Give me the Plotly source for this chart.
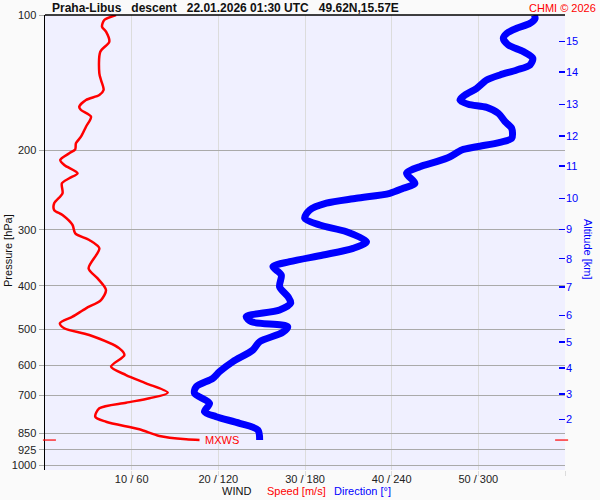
import math
import plotly.graph_objects as go

# ---------------- data ----------------
speed_pressure = [100.0, 102.6, 106.2, 108.9, 114.6, 120.7, 134.8, 139.5, 146.8, 150.6,
                  154.5, 159.9, 162.6, 168.3, 177.1, 186.4, 192.8, 198.8, 202.9, 210.0,
                  215.4, 224.8, 230.6, 236.6, 249.0, 262.0, 271.3, 278.3, 292.9, 305.6,
                  316.2, 330.0, 365.6, 384.8, 408.4, 429.9, 448.6, 468.1, 484.3, 496.8,
                  514.2, 550.6, 569.7, 604.6, 631.0, 658.3, 690.8, 710.9, 727.1, 748.2,
                  781.1, 801.4, 833.1, 862.1, 877.0, 880.1]
speed_ms = [8.2, 6.84, 6.58, 7.04, 7.42, 6.38, 6.27, 6.46, 6.76, 6.27,
            4.73, 3.95, 4.15, 5.31, 4.73, 4.15, 3.57, 3.49, 2.80, 1.76,
            2.22, 3.76, 2.80, 1.95, 2.02, 1.06, 1.06, 2.02, 3.18, 3.49,
            5.11, 6.27, 5.03, 6.07, 7.04, 6.46, 4.73, 3.18, 1.72, 2.22,
            5.11, 8.58, 9.16, 7.62, 9.35, 11.66, 14.16, 12.05, 9.35, 6.27,
            5.80, 7.04, 10.89, 13.20, 16.29, 17.83]

dir_pressure = [100.0, 101.7, 104.3, 107.0, 109.8, 112.7, 116.6, 120.6, 124.8, 129.1,
                132.5, 135.9, 139.5, 145.5, 150.6, 154.5, 157.9, 160.4, 165.4, 172.6,
                178.6, 187.9, 191.8, 196.2, 199.5, 206.5, 211.8, 217.3, 224.8, 236.6,
                242.7, 249.0, 255.5, 262.0, 271.3, 282.9, 292.9, 303.1, 319.0, 330.0,
                341.5, 353.4, 362.5, 378.3, 401.6, 422.7, 436.5, 452.4, 468.1, 480.3,
                492.8, 507.6, 532.1, 555.2, 589.3, 620.4, 641.7, 669.9, 693.0, 729.3,
                761.4, 781.1, 807.9, 836.1, 880.1]
dir_deg = [338.6, 339.3, 335.8, 326.6, 319.7, 317.3, 320.8, 331.2, 337.7, 335.8,
           326.6, 315.0, 305.8, 298.9, 290.8, 287.3, 293.0, 305.8, 313.9, 318.5,
           323.1, 323.1, 315.0, 298.9, 288.5, 280.4, 271.1, 259.5, 250.3, 256.1,
           248.0, 238.7, 215.6, 194.8, 183.2, 179.8, 190.2, 208.7, 222.6, 213.3,
           192.5, 169.4, 157.8, 163.6, 162.4, 168.2, 170.1, 162.4, 139.3, 142.8,
           168.0, 164.5, 148.6, 143.9, 130.1, 120.8, 116.2, 104.7, 103.5, 113.9,
           110.4, 118.5, 134.7, 147.4, 148.6]

pressure_ticks = [100, 200, 300, 400, 500, 600, 700, 850, 925, 1000]
wind_ticks = [10, 20, 30, 40, 50, 60]
wind_tick_labels = ["10 / 60", "20 / 120", "30 / 180", "40 / 240", "50 / 300", ""]
altitude_km = [2, 3, 4, 5, 6, 7, 8, 9, 10, 11, 12, 13, 14, 15]
altitude_pressure = [792, 695, 609.5, 533.5, 465.4, 402.4, 347.9, 299.5, 255.9,
                     216.8, 185.6, 158.0, 133.7, 114.4]

title_text = "Praha-Libus\u00a0\u00a0\u00a0descent\u00a0\u00a0\u00a022.01.2026 01:30 UTC\u00a0\u00a0\u00a049.62N,15.57E"

# direction (deg) mapped onto speed scale: 360 deg == 60 m/s
dir_on_speed = [d / 6.0 for d in dir_deg]

FONT = "Liberation Sans, Arial, sans-serif"
RED = "#ff0000"
BLUE = "#0000ff"

fig = go.Figure()
fig.add_trace(go.Scatter(x=speed_ms, y=speed_pressure, mode="lines",
                         line=dict(color=RED, width=2.5, shape="spline", smoothing=0.8),
                         showlegend=False, hoverinfo="skip"))
fig.add_trace(go.Scatter(x=dir_on_speed, y=dir_pressure, mode="lines",
                         line=dict(color=BLUE, width=7, shape="spline", smoothing=0.8),
                         showlegend=False, hoverinfo="skip"))
fig.add_trace(go.Scatter(x=[None], y=[None], yaxis="y2", showlegend=False, hoverinfo="skip"))

ytop = 2.0
ybot = 3.0 + 5.0 / 450.0

fig.update_layout(
    width=600, height=500,
    margin=dict(l=45, r=35, t=15, b=30),
    paper_bgcolor="#fafafa",
    plot_bgcolor="#f0f0ff",
    font=dict(family=FONT, size=11, color="#222222"),
    xaxis=dict(range=[0, 60], tickvals=wind_ticks, ticktext=wind_tick_labels,
               showgrid=True, gridcolor="#dcdcdc", gridwidth=1,
               ticks="outside", ticklen=5, tickcolor="#dcdcdc", ticklabelstandoff=-6,
               zeroline=False, showline=False, automargin=False,
               tickfont=dict(size=11, color="#222")),
    yaxis=dict(type="log", range=[ybot, ytop], tickvals=pressure_ticks,
               ticktext=[str(p) for p in pressure_ticks],
               showgrid=True, gridcolor="#aaaaaa", gridwidth=1,
               ticks="outside", ticklen=5, tickcolor="#aaaaaa",
               showline=True, linecolor="black", linewidth=1.5,
               zeroline=False, automargin=False, tickfont=dict(size=11, color="#222")),
    yaxis2=dict(type="log", range=[ybot, ytop], overlaying="y", side="right",
                tickvals=altitude_pressure, ticktext=[str(a) for a in altitude_km],
                ticks="inside", ticklen=6, tickcolor=BLUE, tickwidth=1.5,
                showgrid=False, showline=False, zeroline=False, automargin=False,
                tickfont=dict(size=11, color=BLUE)),
)

# top border
fig.add_shape(type="line", xref="paper", yref="paper", x0=0, x1=1, y0=1, y1=1,
              line=dict(color="black", width=1.5))

# MXWS markers derived from data
imax = max(range(len(speed_ms)), key=lambda i: speed_ms[i])
p_mx = speed_pressure[imax]
s_mx = speed_ms[imax]
fig.add_shape(type="line", xref="paper", yref="y", x0=-0.004, x1=0.021, y0=p_mx, y1=p_mx,
              line=dict(color=RED, width=1.2))
fig.add_shape(type="line", xref="paper", yref="y", x0=0.981, x1=1.006, y0=p_mx, y1=p_mx,
              line=dict(color=RED, width=1.2))
fig.add_annotation(x=s_mx + 0.35, y=math.log10(p_mx), xref="x", yref="y", text="MXWS",
                   showarrow=False, xanchor="left", yanchor="middle",
                   font=dict(color=RED, size=11, family=FONT))

# titles
fig.add_annotation(x=0.0096, y=1.0154, xref="paper", yref="paper", text="<b>" + title_text + "</b>",
                   showarrow=False, xanchor="left", yanchor="middle",
                   font=dict(size=12, color="#111", family=FONT))
fig.add_annotation(x=1.0635, y=1.0154, xref="paper", yref="paper", text="CHMI © 2026",
                   showarrow=False, xanchor="right", yanchor="middle",
                   font=dict(size=11, color=RED, family=FONT))
fig.add_annotation(x=-0.0712, y=0.4835, xref="paper", yref="paper", text="Pressure [hPa]",
                   showarrow=False, textangle=-90, xanchor="center", yanchor="middle",
                   font=dict(size=11, color="#111", family=FONT))
fig.add_annotation(x=1.0442, y=0.4835, xref="paper", yref="paper", text="Altitude [km]",
                   showarrow=False, textangle=90, xanchor="center", yanchor="middle",
                   font=dict(size=11, color=BLUE, family=FONT))
# bottom legend-like labels
fig.add_annotation(x=(253 - 45) / 520, y=-0.0462, xref="paper", yref="paper", text="WIND",
                   showarrow=False, xanchor="right", yanchor="middle",
                   font=dict(size=11, color="#111", family=FONT))
fig.add_annotation(x=(265 - 45) / 520, y=-0.0462, xref="paper", yref="paper", text="Speed [m/s]",
                   showarrow=False, xanchor="left", yanchor="middle",
                   font=dict(size=11, color=RED, family=FONT))
fig.add_annotation(x=(332 - 45) / 520, y=-0.0462, xref="paper", yref="paper", text="Direction [°]",
                   showarrow=False, xanchor="left", yanchor="middle",
                   font=dict(size=11, color=BLUE, family=FONT))

fig.write_html("out.html", config={"displayModeBar": False, "staticPlot": True},
               post_script="document.body.style.margin='0';document.body.style.padding='0';")
